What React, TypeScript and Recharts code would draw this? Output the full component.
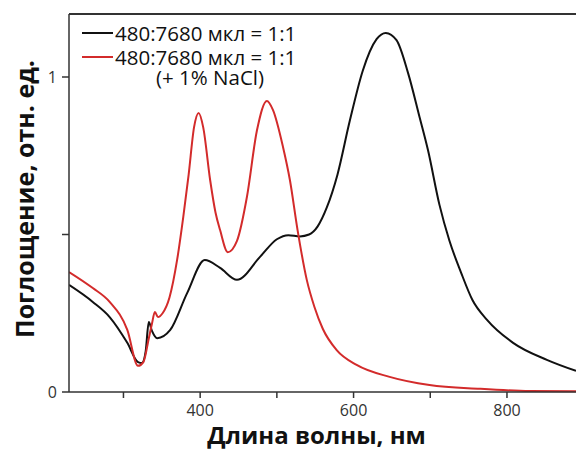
import React from 'react';
import { LineChart, Line, XAxis, YAxis, ReferenceLine } from 'recharts';

// wavelength (nm) / absorbance pairs
const blackWl = [229, 260, 282, 305, 319, 324, 329, 333, 337, 344, 361, 383, 406, 426, 448, 478, 500, 515, 530, 542, 553, 565, 579, 595, 612, 630, 642, 656, 671, 686, 697, 712, 725, 740, 755, 774, 808, 852, 890];
const blackAbs = [0.34, 0.286, 0.238, 0.156, 0.095, 0.092, 0.13, 0.222, 0.195, 0.171, 0.197, 0.314, 0.419, 0.394, 0.356, 0.429, 0.485, 0.498, 0.494, 0.5, 0.525, 0.585, 0.69, 0.86, 1.02, 1.12, 1.14, 1.117, 1.013, 0.873, 0.768, 0.594, 0.48, 0.38, 0.292, 0.229, 0.156, 0.102, 0.067];

const redWl = [229, 260, 282, 305, 319, 326, 333, 337, 341, 345, 351, 360, 370, 378, 385, 392, 398, 404, 413, 420, 426, 436, 448, 461, 474, 487, 495, 508, 517, 527, 539, 549, 560, 578, 604, 647, 699, 765, 830, 890];
const redAbs = [0.381, 0.33, 0.286, 0.197, 0.083, 0.095, 0.17, 0.215, 0.254, 0.238, 0.25, 0.3, 0.42, 0.556, 0.69, 0.84, 0.886, 0.84, 0.673, 0.57, 0.514, 0.444, 0.48, 0.62, 0.83, 0.924, 0.895, 0.778, 0.673, 0.514, 0.356, 0.27, 0.2, 0.133, 0.086, 0.048, 0.022, 0.01, 0.003, 0.002];

const xTicks = [300, 400, 500, 600, 700, 800];
const xLabels = [400, 600, 800];
const yTicks = [0, 0.5, 1];
const yLabels = [0, 1];

const seriesName = '480:7680 мкл = 1:1';
const seriesNote = '(+ 1% NaCl)';
const xTitle = 'Длина волны, нм';
const yTitle = 'Поглощение, отн. ед.';

const blackData = blackWl.map((wl, i) => ({ wl, v: blackAbs[i] }));
const redData = redWl.map((wl, i) => ({ wl, v: redAbs[i] }));

const font = '"Open Sans", sans-serif';
const RED = '#d32b2b';

const LegendBox = () => (
    <div style={{ position: 'absolute', left: 82, top: 21, fontFamily: font, fontSize: 20.5, color: '#111', lineHeight: '24px', whiteSpace: 'nowrap' }}>
        <div style={{ display: 'flex', alignItems: 'center' }}>
            <span style={{ width: 31, height: 2, background: '#111', marginRight: 2 }} />
            <span>{seriesName}</span>
        </div>
        <div style={{ display: 'flex', alignItems: 'center' }}>
            <span style={{ width: 31, height: 2, background: RED, marginRight: 2 }} />
            <span>{seriesName}</span>
        </div>
        <div style={{ marginLeft: 74, marginTop: -4 }}>{seriesNote}</div>
    </div>
);

const XTitle = (props: any) => {
    const vb = props.viewBox;
    return (
        <text x={vb.x + vb.width / 2 - 6} y={vb.y + 52} textAnchor="middle" fill="#111" fontSize={24} fontWeight={700} fontFamily={font}>
            {xTitle}
        </text>
    );
};

const YTitle = () => (
    <text x={0} y={0} transform="translate(34, 199) rotate(-90)" textAnchor="middle" fill="#111" fontSize={25} fontWeight={700} fontFamily={font}>
        {yTitle}
    </text>
);

export default function App() {
    return (
        <div style={{ position: 'absolute', left: 0, top: 0, width: 576, height: 450, overflow: 'hidden', background: '#fff' }}>
            <LineChart width={576} height={450} margin={{ top: 14, right: 0, bottom: 0, left: 0 }}>
                <XAxis
                    type="number"
                    dataKey="wl"
                    domain={[229, 890]}
                    allowDataOverflow
                    ticks={xTicks}
                    tickFormatter={(t) => (xLabels.includes(t) ? String(t) : '')}
                    tickSize={6}
                    tickMargin={7}
                    height={58}
                    stroke="#333"
                    strokeWidth={1.5}
                    tick={{ fill: '#333', fontSize: 16, fontFamily: font }}
                    label={<XTitle />}
                />
                <YAxis
                    type="number"
                    domain={[0, 1.2]}
                    ticks={yTicks}
                    tickFormatter={(t) => (yLabels.includes(t) ? String(t) : '')}
                    tickSize={7}
                    tickMargin={5}
                    width={69}
                    stroke="#333"
                    strokeWidth={1.5}
                    tick={{ fill: '#333', fontSize: 16, fontFamily: font }}
                    label={<YTitle />}
                />
                <ReferenceLine y={1.2} stroke="#333" strokeWidth={2} />
                <Line data={blackData} dataKey="v" type="monotone" stroke="#111" strokeWidth={2} dot={false} isAnimationActive={false} />
                <Line data={redData} dataKey="v" type="monotone" stroke={RED} strokeWidth={2} dot={false} isAnimationActive={false} />
            </LineChart>
            <LegendBox />
        </div>
    );
}
